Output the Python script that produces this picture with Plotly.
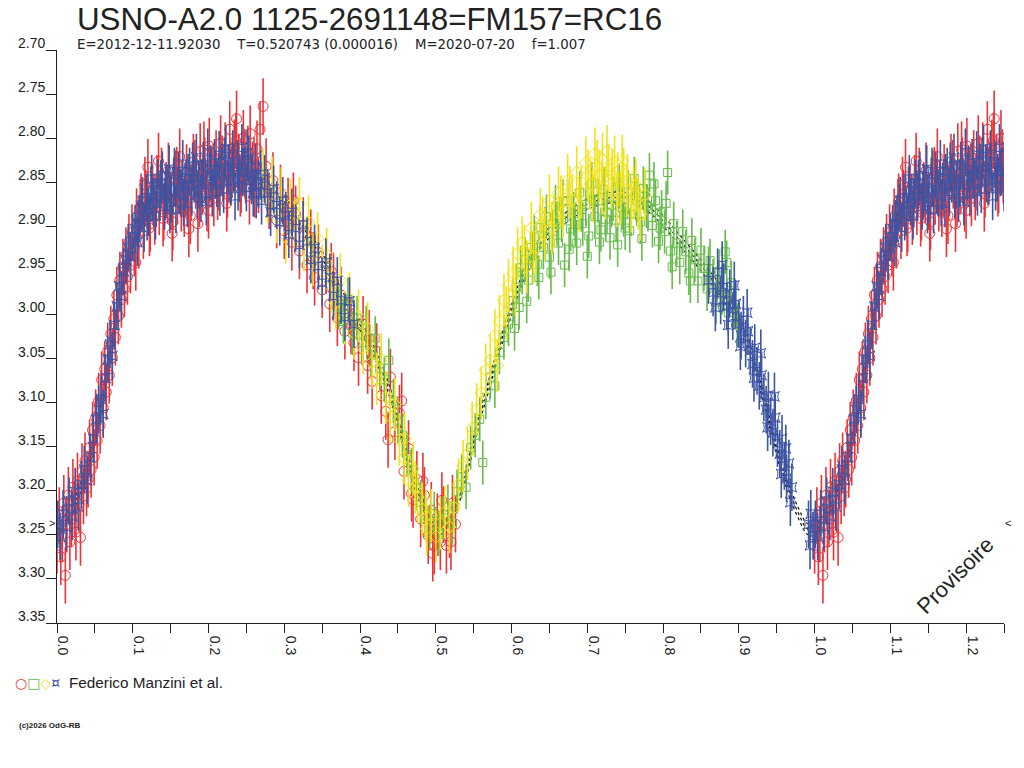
import plotly.graph_objects as go

# texts
title = "USNO-A2.0 1125-2691148=FM157=RC16"
subtitle = "E=2012-12-11.92030    T=0.520743 (0.000016)    M=2020-07-20    f=1.007"
observer = "Federico Manzini et al."
credit = "(c)2026 OdG-RB"

# axes
x_ticks = [0.0, 0.1, 0.2, 0.3, 0.4, 0.5, 0.6, 0.7, 0.8, 0.9, 1.0, 1.1, 1.2]
x_labels = ["0.0", "0.1", "0.2", "0.3", "0.4", "0.5", "0.6", "0.7", "0.8", "0.9", "1.0", "1.1", "1.2"]
x_minor = [0.05, 0.15, 0.25, 0.35, 0.45, 0.55, 0.65, 0.75, 0.85, 0.95, 1.05, 1.15, 1.25]
y_ticks = [2.70, 2.75, 2.80, 2.85, 2.90, 2.95, 3.00, 3.05, 3.10, 3.15, 3.20, 3.25, 3.30, 3.35]
y_labels = ["2.70", "2.75", "2.80", "2.85", "2.90", "2.95", "3.00", "3.05", "3.10", "3.15", "3.20", "3.25", "3.30", "3.35"]

# red circles
red_phase = [0.000, 0.003, 0.005, 0.007, 0.009, 0.011, 0.013, 0.015, 0.017, 0.019, 0.021, 0.023, 0.025, 0.027, 0.029,
             0.031, 0.033, 0.035, 0.037, 0.039, 0.041, 0.043, 0.045, 0.047, 0.049, 0.051, 0.053, 0.055, 0.057, 0.059,
             0.061, 0.063, 0.065, 0.067, 0.069, 0.071, 0.073, 0.075, 0.077, 0.079, 0.081, 0.083, 0.085, 0.087, 0.089,
             0.091, 0.093, 0.095, 0.097, 0.099,
             0.102, 0.105, 0.108, 0.111, 0.114, 0.117, 0.120, 0.123, 0.126, 0.129, 0.132, 0.135, 0.138, 0.141, 0.144,
             0.147, 0.150, 0.153, 0.156, 0.159, 0.162, 0.165, 0.168, 0.171, 0.174, 0.177, 0.180, 0.183, 0.186, 0.189,
             0.192, 0.195, 0.198, 0.201, 0.204, 0.207, 0.210, 0.213, 0.216, 0.219, 0.222, 0.225, 0.228, 0.231, 0.234,
             0.237, 0.240, 0.243, 0.246, 0.249, 0.252, 0.255, 0.258, 0.261, 0.264, 0.268, 0.272, 0.276, 0.280,
             0.285, 0.290, 0.295, 0.300, 0.305, 0.310, 0.315, 0.320, 0.325, 0.330, 0.335, 0.340, 0.345, 0.350, 0.355,
             0.360, 0.365, 0.370, 0.375, 0.380, 0.386, 0.392, 0.398, 0.404, 0.410, 0.416, 0.422, 0.428, 0.434, 0.440,
             0.446, 0.452, 0.458, 0.464, 0.470, 0.475, 0.480, 0.485, 0.490, 0.494, 0.498, 0.502, 0.506, 0.510, 0.514,
             0.518, 0.522, 0.526,
             0.104, 0.110, 0.116, 0.122, 0.128, 0.134, 0.140, 0.146, 0.152, 0.158, 0.164, 0.170, 0.176, 0.182, 0.188,
             0.194, 0.200, 0.206, 0.212, 0.218, 0.224, 0.230, 0.236, 0.242, 0.248, 0.254, 0.260, 0.266,
             0.312, 0.338, 0.362, 0.388, 0.412, 0.437, 0.455, 0.468, 0.483, 0.496, 0.508, 0.520]
red_mag = [3.262, 3.228, 3.275, 3.249, 3.214, 3.296, 3.238, 3.205, 3.258, 3.232, 3.196, 3.221, 3.247, 3.189, 3.215,
           3.253, 3.178, 3.206, 3.166, 3.197, 3.187, 3.151, 3.176, 3.131, 3.162, 3.117, 3.143, 3.098, 3.126, 3.074,
           3.106, 3.062, 3.088, 3.041, 3.069, 3.022, 3.049, 3.005, 3.026, 2.978, 3.002, 2.961, 2.983, 2.946, 2.971,
           2.933, 2.957, 2.918, 2.944, 2.907,
           2.925, 2.889, 2.916, 2.872, 2.905, 2.868, 2.833, 2.897, 2.861, 2.889, 2.851, 2.878, 2.843, 2.884, 2.859,
           2.837, 2.872, 2.895, 2.846, 2.866, 2.821, 2.858, 2.880, 2.839, 2.903, 2.862, 2.827, 2.848, 2.897, 2.815,
           2.855, 2.831, 2.874, 2.809, 2.846, 2.868, 2.823, 2.850, 2.806, 2.839, 2.814, 2.858, 2.790, 2.836, 2.811,
           2.778, 2.827, 2.853, 2.800, 2.842, 2.818, 2.795, 2.836, 2.858, 2.812, 2.790, 2.764, 2.832, 2.871,
           2.848, 2.893, 2.862, 2.905, 2.877, 2.918, 2.886, 2.928, 2.899, 2.944, 2.913, 2.958, 2.930, 2.972, 2.945,
           2.988, 2.962, 3.004, 2.978, 3.019, 2.990, 3.032, 3.049, 3.011, 3.058, 3.076, 3.042, 3.092, 3.110, 3.071,
           3.133, 3.112, 3.178, 3.152, 3.210, 3.187, 3.232, 3.205, 3.251, 3.222, 3.263, 3.235, 3.258, 3.227, 3.262,
           3.244, 3.214, 3.238,
           2.941, 2.878, 2.853, 2.902, 2.872, 2.826, 2.891, 2.865, 2.908, 2.842, 2.874, 2.857, 2.888, 2.834, 2.869,
           2.813, 2.882, 2.838, 2.861, 2.829, 2.874, 2.842, 2.803, 2.857, 2.822, 2.866, 2.831, 2.853,
           2.871, 2.939, 2.951, 3.013, 3.027, 3.142, 3.098, 3.203, 3.189, 3.271, 3.211, 3.258]

# green squares
green_phase = [0.372, 0.378, 0.384, 0.390, 0.396, 0.402, 0.408, 0.414, 0.420, 0.426, 0.432, 0.438, 0.444, 0.450, 0.456,
               0.462, 0.468, 0.474, 0.480, 0.486, 0.492, 0.498, 0.504, 0.510, 0.516, 0.522, 0.528, 0.534, 0.540, 0.546,
               0.552, 0.558, 0.562, 0.566, 0.572, 0.578, 0.584, 0.590, 0.596,
               0.602, 0.606, 0.610, 0.614, 0.618, 0.622, 0.626, 0.630, 0.634, 0.638, 0.642, 0.646, 0.650, 0.654, 0.658,
               0.662, 0.666, 0.670, 0.674, 0.678, 0.682, 0.686, 0.690, 0.694, 0.698, 0.702, 0.706, 0.710, 0.714, 0.718,
               0.722, 0.726, 0.730, 0.734, 0.738, 0.742, 0.746, 0.750, 0.754, 0.758, 0.762, 0.766, 0.770, 0.774, 0.778,
               0.782, 0.786, 0.790, 0.794, 0.798, 0.802, 0.806, 0.810, 0.814, 0.818, 0.822, 0.826, 0.830, 0.834, 0.838,
               0.842, 0.846, 0.850, 0.854, 0.858, 0.862, 0.866, 0.870, 0.874, 0.878, 0.882, 0.886, 0.890, 0.894, 0.898,
               0.604, 0.612, 0.620, 0.628, 0.636, 0.644, 0.652, 0.660, 0.668, 0.676, 0.684, 0.692, 0.700, 0.708, 0.716,
               0.724, 0.732, 0.740, 0.748, 0.756, 0.764, 0.772, 0.780, 0.788, 0.796, 0.804, 0.812, 0.836, 0.860, 0.884]
green_mag = [2.992, 3.008, 2.983, 3.021, 3.004, 3.032, 3.015, 3.046, 3.027, 3.061, 3.074, 3.052, 3.098, 3.121, 3.137,
             3.159, 3.176, 3.198, 3.213, 3.228, 3.241, 3.226, 3.249, 3.231, 3.218, 3.237, 3.201, 3.184, 3.196, 3.151,
             3.137, 3.119, 3.168, 3.094, 3.071, 3.081, 3.043, 3.026, 3.011,
             2.984, 2.969, 2.992, 2.952, 2.938, 2.961, 2.924, 2.912, 2.943, 2.901, 2.924, 2.889, 2.935, 2.906, 2.878,
             2.919, 2.893, 2.944, 2.871, 2.903, 2.886, 2.919, 2.862, 2.897, 2.875, 2.911, 2.852, 2.889, 2.871, 2.904,
             2.858, 2.884, 2.913, 2.869, 2.893, 2.855, 2.879, 2.902, 2.861, 2.886, 2.846, 2.871, 2.895, 2.857, 2.877,
             2.842, 2.899, 2.871, 2.917, 2.884, 2.906, 2.839, 2.928, 2.897, 2.919, 2.941, 2.906, 2.929, 2.953, 2.916,
             2.938, 2.962, 2.927, 2.948, 2.971, 2.939, 2.962, 2.986, 2.951, 2.975, 2.929, 2.998, 2.964, 2.989, 3.012,
             3.016, 2.947, 2.985, 2.931, 2.958, 2.903, 2.952, 2.897, 2.872, 2.926, 2.898, 2.881, 2.934, 2.869, 2.918,
             2.892, 2.876, 2.921, 2.887, 2.905, 2.868, 2.914, 2.881, 2.852, 2.902, 2.874, 2.946, 2.962, 2.948, 2.941]

# yellow diamonds
yellow_phase = [0.272, 0.278, 0.284, 0.290, 0.296, 0.302, 0.308, 0.314, 0.320, 0.326, 0.332, 0.338, 0.344, 0.350, 0.356,
                0.362, 0.368, 0.374, 0.380, 0.386, 0.392, 0.398, 0.404, 0.410, 0.416, 0.422, 0.428, 0.434, 0.440, 0.446,
                0.452, 0.458, 0.464, 0.470, 0.476, 0.482, 0.488, 0.494, 0.500, 0.506, 0.512, 0.518,
                0.524, 0.530, 0.536, 0.542, 0.548, 0.554, 0.560, 0.566, 0.572, 0.578, 0.584, 0.590, 0.596, 0.602, 0.608,
                0.614, 0.620, 0.626, 0.632, 0.638, 0.644, 0.650, 0.656, 0.662, 0.668, 0.674, 0.680, 0.686, 0.692, 0.698,
                0.704, 0.710, 0.716, 0.720, 0.724, 0.728, 0.732, 0.736, 0.740, 0.744, 0.748, 0.752, 0.758, 0.764, 0.770,
                0.776,
                0.581, 0.593, 0.605, 0.617, 0.629, 0.641, 0.653, 0.665, 0.677, 0.689, 0.701, 0.707, 0.713, 0.719, 0.726,
                0.733, 0.739, 0.746, 0.753, 0.761, 0.767, 0.459, 0.473, 0.487]
yellow_mag = [2.842, 2.866, 2.851, 2.889, 2.863, 2.912, 2.876, 2.897, 2.874, 2.921, 2.895, 2.938, 2.914, 2.951, 2.932,
              2.968, 2.987, 2.961, 3.004, 2.982, 3.021, 3.002, 3.038, 3.016, 3.054, 3.073, 3.051, 3.094, 3.116, 3.102,
              3.142, 3.163, 3.188, 3.175, 3.207, 3.221, 3.243, 3.228, 3.252, 3.237, 3.224, 3.241,
              3.219, 3.193, 3.172, 3.158, 3.129, 3.108, 3.089, 3.063, 3.052, 3.024, 3.008, 2.984, 2.967, 2.953, 2.931,
              2.919, 2.946, 2.902, 2.924, 2.887, 2.909, 2.871, 2.894, 2.862, 2.883, 2.848, 2.871, 2.839, 2.861, 2.828,
              2.852, 2.818, 2.843, 2.824, 2.862, 2.836, 2.851, 2.827, 2.846, 2.868, 2.841, 2.859, 2.877, 2.853, 2.886,
              2.864,
              3.058, 2.998, 2.972, 2.928, 2.935, 2.896, 2.902, 2.872, 2.861, 2.876, 2.843, 2.866, 2.832, 2.856, 2.815,
              2.842, 2.871, 2.826, 2.848, 2.862, 2.874, 3.141, 3.196, 3.229]

# blue stars
blue_phase = [0.001, 0.004, 0.008, 0.012, 0.016, 0.020, 0.024, 0.028, 0.032, 0.036, 0.040, 0.044, 0.048, 0.052,
              0.055, 0.058, 0.061, 0.064, 0.067, 0.070, 0.073, 0.076, 0.079, 0.082, 0.085, 0.088, 0.091, 0.094, 0.097,
              0.100, 0.103, 0.106, 0.109, 0.112, 0.115, 0.118, 0.121, 0.124, 0.127, 0.130, 0.133, 0.136, 0.139, 0.142,
              0.145, 0.148, 0.151, 0.154, 0.157, 0.160, 0.163, 0.166, 0.169, 0.172, 0.175, 0.178, 0.181, 0.184, 0.187,
              0.190, 0.193, 0.196, 0.199, 0.202, 0.205, 0.208, 0.211, 0.214, 0.217, 0.220, 0.223, 0.226, 0.229, 0.232,
              0.235, 0.238, 0.241, 0.244, 0.247, 0.250, 0.253, 0.256, 0.259, 0.262,
              0.266, 0.270, 0.274, 0.278, 0.282, 0.286, 0.290, 0.294, 0.298, 0.302, 0.306, 0.310,
              0.315, 0.320, 0.325, 0.330, 0.335, 0.340, 0.345, 0.350, 0.355, 0.360, 0.365, 0.370, 0.375, 0.380,
              0.386, 0.392,
              0.860, 0.866, 0.872, 0.876, 0.880, 0.884, 0.888, 0.892, 0.896, 0.900, 0.903, 0.906, 0.909, 0.912, 0.915,
              0.918, 0.921, 0.924, 0.927, 0.930, 0.933, 0.936, 0.939, 0.942, 0.945, 0.948, 0.951, 0.954, 0.957, 0.960,
              0.963, 0.966, 0.970, 0.992, 0.995, 0.998,
              0.107, 0.113, 0.119, 0.125, 0.131, 0.137, 0.143, 0.149, 0.155, 0.161, 0.167, 0.173, 0.179, 0.185, 0.191,
              0.197, 0.203, 0.209, 0.215, 0.221, 0.227, 0.233, 0.239, 0.245, 0.251, 0.257, 0.263, 0.269,
              0.869, 0.878, 0.886, 0.894, 0.902, 0.911, 0.920, 0.929, 0.938, 0.947, 0.956, 0.962, 0.968, 0.994]
blue_mag = [3.238, 3.252, 3.226, 3.241, 3.212, 3.229, 3.201, 3.218, 3.193, 3.176, 3.188, 3.162, 3.141, 3.119,
            3.108, 3.096, 3.113, 3.072, 3.051, 3.034, 3.047, 3.012, 2.991, 2.968, 2.979, 2.951, 2.938, 2.924, 2.934,
            2.912, 2.903, 2.918, 2.891, 2.879, 2.902, 2.868, 2.884, 2.859, 2.872, 2.888, 2.851, 2.866, 2.842, 2.877,
            2.857, 2.835, 2.869, 2.849, 2.881, 2.842, 2.862, 2.829, 2.855, 2.874, 2.838, 2.861, 2.846, 2.822, 2.853,
            2.868, 2.831, 2.849, 2.816, 2.843, 2.862, 2.828, 2.851, 2.819, 2.837, 2.858, 2.812, 2.834, 2.849, 2.818,
            2.866, 2.829, 2.845, 2.811, 2.838, 2.856, 2.824, 2.843, 2.862, 2.833,
            2.852, 2.871, 2.846, 2.862, 2.884, 2.858, 2.876, 2.895, 2.871, 2.888, 2.909, 2.884,
            2.902, 2.921, 2.898, 2.917, 2.938, 2.925, 2.945, 2.964, 2.941, 2.958, 2.979, 2.962, 2.984, 3.003,
            2.985, 3.011,
            2.961, 2.975, 2.952, 2.984, 2.969, 2.991, 2.976, 3.002, 2.988, 3.011, 3.024, 3.006, 3.033, 3.019, 3.041,
            3.056, 3.038, 3.064, 3.081, 3.069, 3.094, 3.108, 3.092, 3.121, 3.134, 3.117, 3.146, 3.158, 3.141, 3.172,
            3.186, 3.169, 3.196, 3.238, 3.226, 3.251,
            2.897, 2.871, 2.889, 2.846, 2.874, 2.852, 2.866, 2.881, 2.838, 2.859, 2.873, 2.845, 2.832, 2.864, 2.851,
            2.872, 2.835, 2.842, 2.861, 2.826, 2.846, 2.833, 2.855, 2.839, 2.817, 2.848, 2.864, 2.841,
            2.992, 2.944, 3.012, 2.967, 3.036, 2.998, 3.072, 3.044, 3.128, 3.093, 3.181, 3.152, 3.213, 3.262]

# fitted light curve (centre line), band drawn either side
model_phase = [0.00, 0.01, 0.02, 0.03, 0.04, 0.05, 0.06, 0.07, 0.08, 0.09, 0.10, 0.11, 0.12,
               0.14, 0.16, 0.18, 0.20, 0.22, 0.24, 0.26, 0.28, 0.30, 0.32, 0.34, 0.36, 0.38, 0.40, 0.42, 0.44,
               0.46, 0.48, 0.50,
               0.51, 0.52, 0.53, 0.54, 0.55, 0.56, 0.57, 0.58, 0.59, 0.60, 0.61, 0.62,
               0.64, 0.66, 0.68, 0.70, 0.72, 0.74, 0.76, 0.78, 0.80, 0.82, 0.84, 0.86, 0.88, 0.90, 0.92, 0.94,
               0.96, 0.98, 0.99, 1.00]
model_mag = [3.245, 3.235, 3.220, 3.200, 3.175, 3.140, 3.095, 3.045, 2.995, 2.955, 2.925, 2.900, 2.885,
             2.868, 2.858, 2.850, 2.843, 2.838, 2.837, 2.842, 2.855, 2.872, 2.895, 2.922, 2.952, 2.985, 3.012, 3.045,
             3.090, 3.155, 3.210, 3.240,
             3.243, 3.235, 3.210, 3.180, 3.145, 3.110, 3.080, 3.050, 3.020, 2.995, 2.970, 2.948,
             2.917, 2.899, 2.885, 2.875, 2.869, 2.867, 2.869, 2.877, 2.894, 2.914, 2.934, 2.955, 2.978, 3.005,
             3.055, 3.120, 3.185, 3.228, 3.243, 3.245]
model_band = 0.006

W, H = 1024, 768
L, R, T, B = 57, 20, 50, 145


def px(x):
    return (x - L) / (W - L - R)


def py(y):
    return (H - B - y) / (H - T - B)


def fold(ph, mg, upto=0.25):
    # repeat the start of the cycle after phase 1
    xs = list(ph) + [p + 1 for p in ph if p <= upto]
    ys = list(mg) + [m for p, m in zip(ph, mg) if p <= upto]
    return xs, ys


FONT = "Liberation Sans, Arial, sans-serif"
INK = "#222222"

fig = go.Figure()

mx, my = fold(model_phase[:-1], model_mag[:-1])
order = sorted(range(len(mx)), key=lambda i: mx[i])
mx = [mx[i] for i in order]
my = [my[i] for i in order]
for off in (-model_band, 0, model_band):
    fig.add_trace(go.Scatter(
        x=mx, y=[m + off for m in my], mode="lines",
        line=dict(color="#111111", width=1.2, dash="dot", shape="spline"),
        hoverinfo="skip", showlegend=False))

series = [
    (red_phase, red_mag, "#ee3338", "circle-open", 10, 0.032),
    (green_phase, green_mag, "#66bb4a", "square-open", 8, 0.025),
    (yellow_phase, yellow_mag, "#f2e21c", "diamond-open", 10, 0.030),
    (blue_phase, blue_mag, "#3c54a4", "star-square-open", 9, 0.027),
]
for ph, mg, col, sym, size, err in series:
    xs, ys = fold(ph, mg)
    fig.add_trace(go.Scatter(
        x=xs, y=ys, mode="markers",
        marker=dict(symbol=sym, size=size, color=col, line=dict(width=1, color=col)),
        error_y=dict(type="constant", value=err, thickness=1.6, width=0, color=col),
        showlegend=False))

ann = []
for v, t in zip(y_ticks, y_labels):
    ann.append(dict(x=0, xref="paper", y=v, yref="y", text=t, showarrow=False,
                    xanchor="right", yanchor="middle", xshift=-10, yshift=7,
                    font=dict(family=FONT, size=14, color=INK)))


def note(x, y, text, size, family=FONT, xanchor="left", **kw):
    ann.append(dict(x=px(x), y=py(y), xref="paper", yref="paper", text=text, showarrow=False,
                    xanchor=xanchor, yanchor="middle", font=dict(family=family, size=size, color=INK), **kw))


note(75, 19, title, 31.3)
note(75, 44, subtitle.replace(" ", "\u00a0"), 13.3, family="DejaVu Sans")
note(955, 575, "Provisoire", 22, xanchor="center", textangle=-45)
note(52, 523, "&gt;", 11, xanchor="center")
note(1008, 523, "&lt;", 11, xanchor="center")
symbols = ('<span style="color:#ee3338">○</span><span style="color:#66bb4a">□</span>'
           '<span style="color:#f2e21c">◇</span><span style="color:#3c54a4">¤</span>')
note(13, 683, symbols, 14, family="DejaVu Sans")
note(67, 683, observer, 15.3)
note(17, 725, "<b>" + credit + "</b>", 8)

fig.update_layout(
    width=W, height=H,
    margin=dict(l=L, r=R, t=T, b=B),
    paper_bgcolor="white", plot_bgcolor="white",
    annotations=ann,
    showlegend=False,
    xaxis=dict(range=[0, 1.25], showgrid=False, zeroline=False, showline=True, linecolor=INK, linewidth=1,
               ticks="outside", ticklen=9, tickcolor=INK, tickvals=x_ticks, ticktext=x_labels,
               tickangle=90, ticklabelshift=6,
               tickfont=dict(family=FONT, size=14, color=INK),
               minor=dict(tickvals=x_minor, ticks="outside", ticklen=9, tickcolor=INK),
               automargin=False),
    yaxis=dict(range=[3.35, 2.70], showgrid=False, zeroline=False, showline=True, linecolor=INK, linewidth=1,
               ticks="outside", ticklen=10, tickcolor=INK, tickvals=y_ticks, showticklabels=False,
               automargin=False),
)

# drop the page's default body margin so the figure sits at the window's corner
fig.write_html("out.html", config={"displayModeBar": False},
               post_script="document.body.style.margin='0';")
